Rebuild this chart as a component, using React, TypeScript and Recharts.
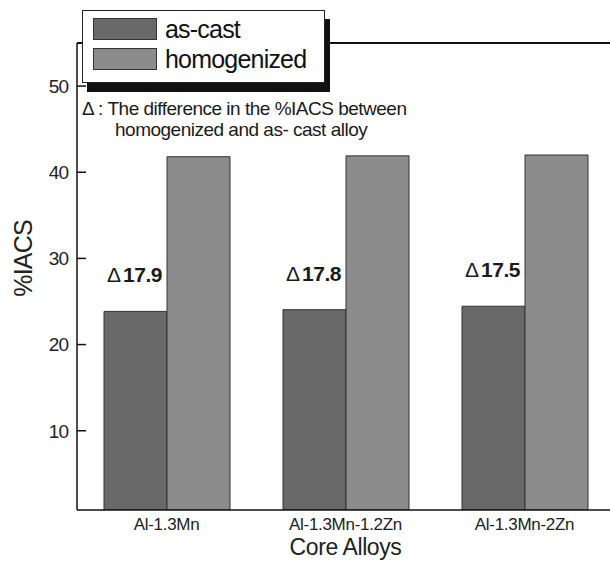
import React from 'react';
import { BarChart, Bar, XAxis, YAxis, ReferenceLine, LabelList, Legend } from 'recharts';

const categories = ['Al-1.3Mn', 'Al-1.3Mn-1.2Zn', 'Al-1.3Mn-2Zn'];
const asCast = [23.85, 24.05, 24.45];
const homogenized = [41.8, 41.9, 42.0];
const deltas = ['17.9', '17.8', '17.5'];
const yTicks = [10, 20, 30, 40, 50];
const seriesNames = ['as-cast', 'homogenized'];
const noteLines = ['\u0394 : The difference in the %IACS between', 'homogenized and as- cast alloy'];

const data = categories.map((c, i) => ({
  name: c,
  asCast: asCast[i],
  homogenized: homogenized[i],
  delta: deltas[i],
}));

const FONT = '"Liberation Sans", Arial, Helvetica, sans-serif';

const YTick = (props: any) => {
  const { x, y, payload } = props;
  return (
    <g>
      <line x1={x} x2={x + 9} y1={y} y2={y} stroke="#111" strokeWidth={1.5} />
      <text x={x - 9} y={y} dy="0.36em" textAnchor="end" fontSize={19} fill="#222" letterSpacing={-1}>
        {payload.value}
      </text>
    </g>
  );
};

const DeltaLabel = (props: any) => {
  const { x, y, value } = props;
  return (
    <text x={Number(x) + 3} y={Number(y) - 29} fontSize={21} fill="#1a1a1a">
      <tspan fontWeight="normal">{'\u0394'}</tspan>
      <tspan fontWeight="bold" dx={2} letterSpacing={-0.5}>{value}</tspan>
    </text>
  );
};

const LegendBox = (props: any) => {
  const { payload } = props;
  return (
    <div style={{ position: 'relative', width: 610, height: 140, fontFamily: FONT }}>
      <div
        style={{
          position: 'absolute',
          left: 82,
          top: 10,
          width: 243,
          height: 73,
          background: '#fff',
          border: '1.5px solid #222',
          boxShadow: '5px 9px 0 #111',
          boxSizing: 'border-box',
        }}
      >
        {(payload || []).map((p: any, i: number) => (
          <div
            key={i}
            style={{ position: 'absolute', left: 10, top: 7 + i * 30, display: 'flex', alignItems: 'center', height: 22 }}
          >
            <span
              style={{
                display: 'inline-block',
                width: 64,
                height: 22,
                background: p.color,
                border: '1.5px solid #333',
                boxSizing: 'border-box',
              }}
            />
            <span style={{ marginLeft: 8, fontSize: 25, letterSpacing: -0.8, color: '#111', lineHeight: '22px' }}>
              {p.value}
            </span>
          </div>
        ))}
      </div>
      <div
        style={{
          position: 'absolute',
          left: 82,
          top: 98,
          fontSize: 19,
          lineHeight: '21px',
          letterSpacing: -0.5,
          color: '#1a1a1a',
          whiteSpace: 'nowrap',
        }}
      >
        {noteLines[0]}
        <br />
        <span style={{ paddingLeft: 33 }}>{noteLines[1]}</span>
      </div>
    </div>
  );
};

const YLabel = (props: any) => {
  const vb = props.viewBox || { x: 0, y: 0, width: 0, height: 0 };
  const cx = vb.x + 23;
  const cy = vb.y + vb.height / 2 - 18;
  return (
    <text
      x={cx}
      y={cy}
      transform={`rotate(-90 ${cx} ${cy})`}
      textAnchor="middle"
      dominantBaseline="central"
      fontSize={25}
      fill="#222"
      letterSpacing={-0.8}
    >
      %IACS
    </text>
  );
};

export default function App() {
  return (
    <div
      style={{
        position: 'absolute',
        left: 0,
        top: 0,
        width: 610,
        height: 561,
        overflow: 'hidden',
        background: '#fff',
        fontFamily: FONT,
      }}
    >
      <BarChart
        width={620}
        height={561}
        data={data}
        margin={{ top: 43, right: 6, bottom: 0, left: 0 }}
        barSize={63}
        barGap={0}
      >
        <XAxis
          dataKey="name"
          height={51}
          tickLine={false}
          axisLine={{ stroke: '#111', strokeWidth: 1.5 }}
          tick={{ fontSize: 17, fill: '#222', letterSpacing: -0.3 }}
          label={{ value: 'Core Alloys', position: 'insideBottom', offset: 6, fontSize: 23, fill: '#222', letterSpacing: -0.4 }}
        />
        <YAxis
          width={77}
          domain={[0.8, 55]}
          ticks={yTicks}
          allowDataOverflow
          tickLine={false}
          tickSize={0}
          tickMargin={0}
          axisLine={{ stroke: '#111', strokeWidth: 1.5 }}
          tick={<YTick />}
          label={<YLabel />}
        />
        <ReferenceLine y={55} stroke="#111" strokeWidth={2} ifOverflow="extendDomain" />
        <Bar dataKey="asCast" name={seriesNames[0]} fill="#696969" stroke="#333" strokeWidth={1} isAnimationActive={false}>
          <LabelList dataKey="delta" content={<DeltaLabel />} />
        </Bar>
        <Bar dataKey="homogenized" name={seriesNames[1]} fill="#8c8c8c" stroke="#333" strokeWidth={1} isAnimationActive={false} />
        <Legend
          layout="vertical"
          align="center"
          verticalAlign="middle"
          content={<LegendBox />}
          wrapperStyle={{ left: 0, top: 0, width: 610, height: 140, margin: 0 }}
        />
      </BarChart>
    </div>
  );
}
